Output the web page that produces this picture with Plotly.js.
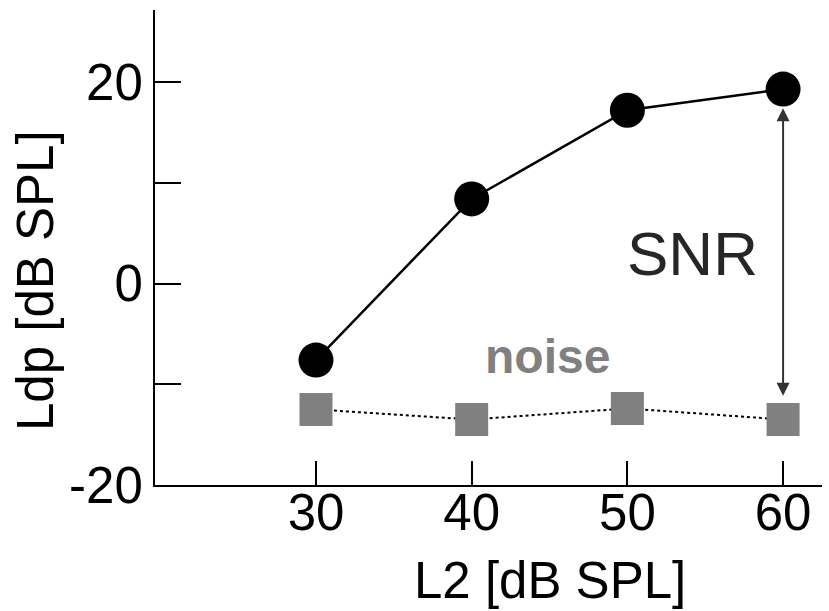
<!DOCTYPE html>
<html>
<head>
<meta charset="utf-8">
<script src="https://cdn.plot.ly/plotly-3.0.1.min.js"></script>
<style>html,body{margin:0;padding:0;background:#fff;}#chart{width:829px;height:611px;}</style>
</head>
<body>
<div id="chart"></div>
<script>
// Data
var levelsL2 = [30, 40, 50, 60];
var ldpValues = [-7.6, 8.4, 17.2, 19.3];
var noiseValues = [-12.5, -13.5, -12.4, -13.5];
var yTickVals = [-20, -10, 0, 10, 20];
var yTickText = ['-20', '', '0', '', '20'];
var xTickVals = [30, 40, 50, 60];
var xTitle = 'L2 [dB SPL]';
var yTitle = 'Ldp [dB SPL]';
var snrLabel = 'SNR';
var noiseLabel = 'noise';

var font = 'Liberation Sans, Arial, sans-serif';

var traces = [
  {
    x: levelsL2, y: noiseValues, type: 'scatter', mode: 'lines+markers',
    line: {color: '#000', width: 2, dash: 'dot'},
    marker: {symbol: 'square', size: 33, color: '#808080'},
    showlegend: false, hoverinfo: 'skip'
  },
  {
    x: levelsL2, y: ldpValues, type: 'scatter', mode: 'lines+markers',
    line: {color: '#000', width: 2.5},
    marker: {symbol: 'circle', size: 35, color: '#000'},
    showlegend: false, hoverinfo: 'skip'
  }
];

var layout = {
  width: 829, height: 611,
  margin: {l: 155, r: 7, t: 10, b: 126},
  paper_bgcolor: '#fff', plot_bgcolor: '#fff',
  font: {family: font, size: 51, color: '#000'},
  xaxis: {
    range: [19.66, 62.5], tickvals: xTickVals,
    ticks: 'inside', ticklen: 24, tickwidth: 2, tickcolor: '#000',
    showline: true, linecolor: '#000', linewidth: 2,
    showgrid: false, zeroline: false, ticklabelstandoff: -18,
    tickfont: {family: font, size: 51, color: '#000'}
  },
  yaxis: {
    range: [-20, 27.15], tickvals: yTickVals, ticktext: yTickText,
    ticks: 'inside', ticklen: 26, tickwidth: 2, tickcolor: '#000',
    showline: true, linecolor: '#000', linewidth: 2,
    showgrid: false, zeroline: false,
    tickfont: {family: font, size: 51, color: '#000'}
  },
  annotations: [
    {
      x: 60, y: 17.4, ax: 60, ay: -11.3, xref: 'x', yref: 'y', axref: 'x', ayref: 'y',
      text: '', showarrow: true, arrowhead: 2, arrowside: 'end+start',
      arrowsize: 1.3, arrowwidth: 2, arrowcolor: '#333', standoff: 0, startstandoff: 0
    },
    {
      x: 54.18, y: 3.0, xref: 'x', yref: 'y', text: snrLabel, showarrow: false,
      font: {family: font, size: 62, color: '#262626'}
    },
    {
      x: 44.9, y: -7.2, xref: 'x', yref: 'y', text: '<b>' + noiseLabel + '</b>', showarrow: false,
      font: {family: font, size: 48, color: '#808080'}
    },
    {
      x: 550, y: 580, xref: 'paper', yref: 'paper', xanchor: 'center', yanchor: 'middle',
      text: xTitle, showarrow: false,
      font: {family: font, size: 51, color: '#000'}
    },
    {
      x: 35, y: 280, xref: 'paper', yref: 'paper', xanchor: 'center', yanchor: 'middle',
      text: yTitle, showarrow: false, textangle: -90,
      font: {family: font, size: 51, color: '#000'}
    }
  ]
};

// convert pixel positions of the free titles into paper fractions
(function () {
  var pw = 829 - 155 - 7, ph = 611 - 10 - 126;
  layout.annotations.forEach(function (a) {
    if (a.xref === 'paper') {
      a.x = (a.x - 155) / pw;
      a.y = (611 - 126 - a.y) / ph;
    }
  });
})();

Plotly.newPlot('chart', traces, layout, {displayModeBar: false, staticPlot: true});
</script>
</body>
</html>
